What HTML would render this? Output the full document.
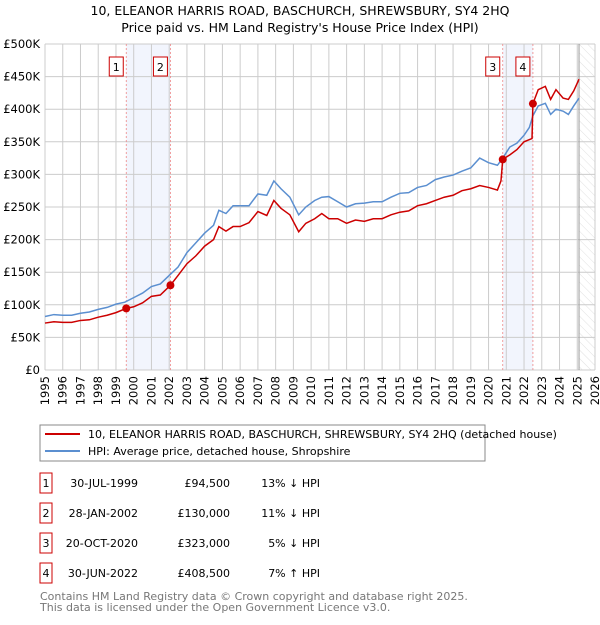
<!DOCTYPE html>
<html><head><meta charset="utf-8"><style>
body{margin:0;background:#fff;font-family:"Liberation Sans","DejaVu Sans",sans-serif;}
svg text{font-family:"DejaVu Sans","Liberation Sans",sans-serif;}
</style></head><body>
<svg id="chart" width="600" height="620" viewBox="0 0 600 620" xmlns="http://www.w3.org/2000/svg">
<defs><pattern id="hatch" width="6" height="6" patternUnits="userSpaceOnUse" patternTransform="rotate(-45)"><line x1="0" y1="0" x2="0" y2="6" stroke="#ccc" stroke-width="0.6"/></pattern></defs>
<text x="300" y="15" text-anchor="middle" font-size="12.5" fill="#000">10, ELEANOR HARRIS ROAD, BASCHURCH, SHREWSBURY, SY4 2HQ</text>
<text x="300" y="32" text-anchor="middle" font-size="12.5" fill="#000">Price paid vs. HM Land Registry's House Price Index (HPI)</text>
<g id="plot"></g>
<rect x="40" y="425" width="445" height="36" fill="none" stroke="#888"/>
<line x1="45" y1="434" x2="80" y2="434" stroke="#cc0000" stroke-width="2"/>
<text x="88" y="438" font-size="11">10, ELEANOR HARRIS ROAD, BASCHURCH, SHREWSBURY, SY4 2HQ (detached house)</text>
<line x1="45" y1="451" x2="80" y2="451" stroke="#5b8fd0" stroke-width="2"/>
<text x="88" y="455" font-size="11">HPI: Average price, detached house, Shropshire</text>
<g id="table" font-size="11"></g>
<text x="40" y="600" font-size="11" fill="#777">Contains HM Land Registry data © Crown copyright and database right 2025.</text>
<text x="40" y="611" font-size="11" fill="#777">This data is licensed under the Open Government Licence v3.0.</text>
</svg>
<script>
const hpiYears=[1995,1995.5,1996,1996.5,1997,1997.5,1998,1998.5,1999,1999.5,2000,2000.5,2001,2001.5,2002,2002.5,2003,2003.5,2004,2004.5,2004.8,2005.2,2005.6,2006,2006.5,2007,2007.5,2007.9,2008.3,2008.8,2009.3,2009.7,2010.2,2010.6,2011,2011.5,2012,2012.5,2013,2013.5,2014,2014.5,2015,2015.5,2016,2016.5,2017,2017.5,2018,2018.5,2019,2019.5,2020,2020.5,2020.8,2021.2,2021.6,2022,2022.3,2022.5,2022.8,2023.2,2023.5,2023.8,2024.2,2024.5,2024.8,2025.1];
const hpiValues=[82,85,84,84,87,89,93,96,101,104,111,118,128,132,145,158,180,195,210,222,245,240,252,252,252,270,268,290,278,265,238,250,260,265,266,258,250,255,256,258,258,265,271,272,280,283,292,296,299,305,310,325,318,314,325,342,348,360,372,390,405,409,392,400,397,392,405,417];
const redYears=[1995,1995.5,1996,1996.5,1997,1997.5,1998,1998.5,1999,1999.58,2000,2000.5,2001,2001.5,2002.07,2002.5,2003,2003.5,2004,2004.5,2004.8,2005.2,2005.6,2006,2006.5,2007,2007.5,2007.9,2008.3,2008.8,2009.3,2009.7,2010.2,2010.6,2011,2011.5,2012,2012.5,2013,2013.5,2014,2014.5,2015,2015.5,2016,2016.5,2017,2017.5,2018,2018.5,2019,2019.5,2020,2020.5,2020.7,2020.8,2021.2,2021.6,2022,2022.45,2022.5,2022.8,2023.2,2023.5,2023.8,2024.2,2024.5,2024.8,2025.1];
const redValues=[72,74,73,73,76,77,81,84,88,94.5,97,103,113,115,130,145,163,175,190,200,220,213,220,220,226,243,237,260,248,238,212,225,232,240,232,232,225,230,228,232,232,238,242,244,252,255,260,265,268,275,278,283,280,276,290,323,330,338,350,355,408.5,430,435,415,430,417,415,428,446];
const saleYears=[1999.58,2002.07,2020.8,2022.5];
const saleValues=[94.5,130,323,408.5];
const saleLabels=["1","2","3","4"];
const saleDates=["30-JUL-1999","28-JAN-2002","20-OCT-2020","30-JUN-2022"];
const salePrices=["£94,500","£130,000","£323,000","£408,500"];
const saleDiffs=["13% ↓ HPI","11% ↓ HPI","5% ↓ HPI","7% ↑ HPI"];
const yTicks=[0,50,100,150,200,250,300,350,400,450,500];
const yTickLabels=["£0","£50K","£100K","£150K","£200K","£250K","£300K","£350K","£400K","£450K","£500K"];
const xTicks=[1995,1996,1997,1998,1999,2000,2001,2002,2003,2004,2005,2006,2007,2008,2009,2010,2011,2012,2013,2014,2015,2016,2017,2018,2019,2020,2021,2022,2023,2024,2025,2026];

const X0=45,X1=595,Y0=370,Y1=44;
const xs=y=>X0+(y-1995)/(2026-1995)*(X1-X0);
const ys=v=>Y0-v/500*(Y0-Y1);
const NS="http://www.w3.org/2000/svg";
const plot=document.getElementById('plot');
function mk(tag,attrs,parent){const e=document.createElementNS(NS,tag);for(const k in attrs)e.setAttribute(k,attrs[k]);(parent||plot).appendChild(e);return e;}

const b1=mk('rect',{x:xs(saleYears[0]),y:Y1,width:xs(saleYears[1])-xs(saleYears[0]),height:Y0-Y1,fill:'#f2f5fd'});


const b2=mk('rect',{x:xs(saleYears[2]),y:Y1,width:xs(saleYears[3])-xs(saleYears[2]),height:Y0-Y1,fill:'#f2f5fd'});


const hz=mk('rect',{x:xs(2025.1),y:Y1,width:X1-xs(2025.1),height:Y0-Y1,fill:'url(#hatch)'});



yTicks.forEach((t,i)=>{
  const l=mk('line',{x1:X0,x2:X1,y1:ys(t),y2:ys(t),stroke:'#ccc','stroke-width':1});
  
  
  const tx=mk('text',{x:X0-5,y:ys(t)+4,'text-anchor':'end','font-size':11.5});
  tx.textContent=yTickLabels[i];
  
  
});
xTicks.forEach(t=>{
  const l=mk('line',{x1:xs(t),x2:xs(t),y1:Y1,y2:Y0,stroke:'#ccc','stroke-width':1});
  
  
  const tx=mk('text',{x:0,y:0,'font-size':11.5,'text-anchor':'end',transform:`translate(${xs(t)+4},${Y0+6}) rotate(-90)`});
  tx.textContent=t;
  
  
});
const nl=mk('line',{x1:xs(2025.1),x2:xs(2025.1),y1:Y1,y2:Y0,stroke:'#999','stroke-width':1});



saleYears.forEach((y,i)=>{
  const l=mk('line',{x1:xs(y),x2:xs(y),y1:Y1,y2:Y0,stroke:'#ee8888','stroke-width':0.8,'stroke-dasharray':'2,2'});
  
  
  const bx=xs(y)-10;
  const r=mk('rect',{x:bx-7,y:57,width:14,height:19,fill:'#fff',stroke:'#cc0000'});
  
  
  const t=mk('text',{x:bx,y:71,'text-anchor':'middle','font-size':11});
  t.textContent=saleLabels[i];
  
  
});

const hp=mk('polyline',{points:hpiYears.map((y,i)=>xs(y)+','+ys(hpiValues[i])).join(' '),fill:'none',stroke:'#5b8fd0','stroke-width':1.5});


const rp=mk('polyline',{points:redYears.map((y,i)=>xs(y)+','+ys(redValues[i])).join(' '),fill:'none',stroke:'#cc0000','stroke-width':1.5});


saleYears.forEach((y,i)=>{
  const c=mk('circle',{cx:xs(y),cy:ys(saleValues[i]),r:4,fill:'#cc0000'});
  
  
});

const tb=document.getElementById('table');
saleLabels.forEach((lab,i)=>{
  const cy=483+i*30;
  const r=mk('rect',{x:40,y:cy-10,width:12,height:20,fill:'#fff',stroke:'#cc0000'},tb);
  
  
  const cells=[[46,'middle',lab,'table-row-number'],[138,'end',saleDates[i],'table-date'],[230,'end',salePrices[i],'table-price'],[320,'end',saleDiffs[i],'table-hpi-diff']];
  cells.forEach(c=>{
    const t=mk('text',{x:c[0],y:cy+4,'text-anchor':c[1]},tb);
    t.textContent=c[2];
    
    
  });
});
</script>
</body></html>
